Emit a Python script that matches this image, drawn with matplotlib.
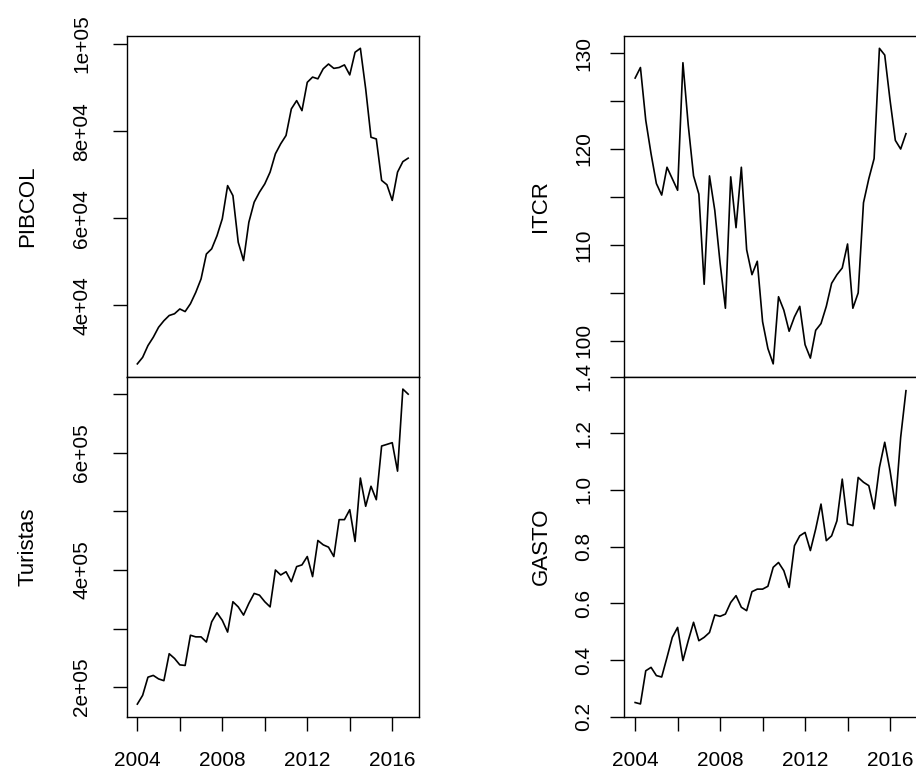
import numpy as np
import matplotlib
matplotlib.use("Agg")
import matplotlib.pyplot as plt

plt.rcParams['font.family'] = ['Liberation Sans', 'DejaVu Sans']

# Quarterly series 2004Q1 - 2016Q4
start_year = 2004
freq = 4

pibcol = [26600, 28100, 30800, 32700, 35000, 36500, 37700, 38100, 39200, 38600,
          40400, 43000, 46100, 51800, 53000, 56000, 59900, 67500, 65200, 54500,
          50300, 59100, 63700, 66000, 67900, 70600, 74800, 77100, 79000, 85100,
          87000, 84700, 91200, 92400, 92000, 94300, 95400, 94400, 94600, 95200,
          92900, 98100, 99000, 89700, 78600, 78200, 68700, 67700, 64100, 70600,
          73000, 73800]

turistas = [171000, 186000, 217000, 220000, 214000, 211000, 257000, 249000, 238000, 237000,
            288600, 285800, 285800, 277000, 311500, 327000, 314000, 294000, 345800, 337000,
            323000, 343000, 360000, 357000, 345800, 337000, 400000, 391500, 397000, 380000,
            405800, 408700, 423000, 388700, 450400, 443000, 439000, 423000, 486000, 486000,
            503000, 448700, 557000, 508800, 543000, 520000, 611700, 614500, 617400, 568800,
            708900, 700300]

itcr = [127.4, 128.5, 123.0, 119.5, 116.4, 115.2, 118.1, 116.9, 115.7, 129.0,
        122.5, 117.2, 115.3, 105.9, 117.2, 113.6, 108.1, 103.4, 117.1, 111.8,
        118.1, 109.5, 106.9, 108.3, 102.0, 99.2, 97.6, 104.6, 103.2, 101.0,
        102.5, 103.6, 99.6, 98.2, 101.1, 101.8, 103.6, 106.0, 106.9, 107.6,
        110.1, 103.4, 105.0, 114.4, 116.9, 119.0, 130.5, 129.8, 125.1, 120.9,
        120.0, 121.6]

gasto = [0.250, 0.245, 0.362, 0.374, 0.345, 0.340, 0.409, 0.480, 0.515, 0.398,
         0.468, 0.533, 0.468, 0.480, 0.497, 0.559, 0.554, 0.562, 0.603, 0.627,
         0.586, 0.574, 0.641, 0.650, 0.650, 0.660, 0.727, 0.744, 0.715, 0.656,
         0.803, 0.838, 0.850, 0.786, 0.862, 0.950, 0.821, 0.838, 0.891, 1.038,
         0.880, 0.874, 1.044, 1.027, 1.015, 0.933, 1.079, 1.168, 1.068, 0.944,
         1.185, 1.350]

names = ["PIBCOL", "Turistas", "ITCR", "GASTO"]

pib_ticks = [40000, 60000, 80000, 100000]
pib_labels = ["4e+04", "6e+04", "8e+04", "1e+05"]
tur_ticks = [200000, 300000, 400000, 500000, 600000, 700000]
tur_labels = ["2e+05", "", "4e+05", "", "6e+05", ""]
itcr_ticks = [100, 105, 110, 115, 120, 125, 130]
itcr_labels = ["100", "", "110", "", "120", "", "130"]
gasto_ticks = [0.2, 0.4, 0.6, 0.8, 1.0, 1.2, 1.4]
gasto_labels = ["0.2", "0.4", "0.6", "0.8", "1.0", "1.2", "1.4"]
year_ticks = [2004, 2006, 2008, 2010, 2012, 2014, 2016]
year_labels = ["2004", "", "2008", "", "2012", "", "2016"]

W, H = 916, 774
fig = plt.figure(figsize=(W / 100, H / 100), dpi=100)
fig.patch.set_facecolor("white")

n = len(pibcol)
t = start_year + np.arange(n) / freq

top_y, mid_y, bot_y = 35.7, 376.5, 716.7
cols_x = [126.5, 624.3]
pw = 292.5

def make_ax(x0, y0, y1):
    return fig.add_axes([x0 / W, 1 - y1 / H, pw / W, (y1 - y0) / H])

FS = 15
NFS = 16
TL = 10
panels = [
    (cols_x[0], top_y, mid_y, pibcol, pib_ticks, pib_labels, names[0], False, 15.3, 28),
    (cols_x[0], mid_y, bot_y, turistas, tur_ticks, tur_labels, names[1], True, 15.3, 28),
    (cols_x[1], top_y, mid_y, itcr, itcr_ticks, itcr_labels, names[2], False, 12.5, 541),
    (cols_x[1], mid_y, bot_y, gasto, gasto_ticks, gasto_labels, names[3], True, 12.5, 541),
]

for x0, y0, y1, data, yt, yl, name, xaxis, ypad, labx in panels:
    ax = make_ax(x0, y0, y1)
    ax.plot(t, data, color="black", lw=1.2)
    ax.margins(x=0.04, y=0.04)
    for s in ax.spines.values():
        s.set_linewidth(1.0)
        s.set_color("black")
    ax.set_yticks(yt)
    ax.set_yticklabels(yl, rotation=90, va="center", ha="right", fontsize=FS)
    ax.tick_params(axis="y", length=TL, width=1.0, pad=ypad)
    if xaxis:
        ax.set_xticks(year_ticks)
        ax.set_xticklabels(year_labels, fontsize=FS)
        ax.tick_params(axis="x", length=TL, width=1.0, pad=14.5)
    else:
        ax.set_xticks([])
    ax.set_facecolor("white")
    fig.text(labx / W, 1 - ((y0 + y1) / 2) / H, name, rotation=90,
             ha="center", va="center", fontsize=NFS)

fig.savefig("out.png", dpi=100, facecolor="white")
